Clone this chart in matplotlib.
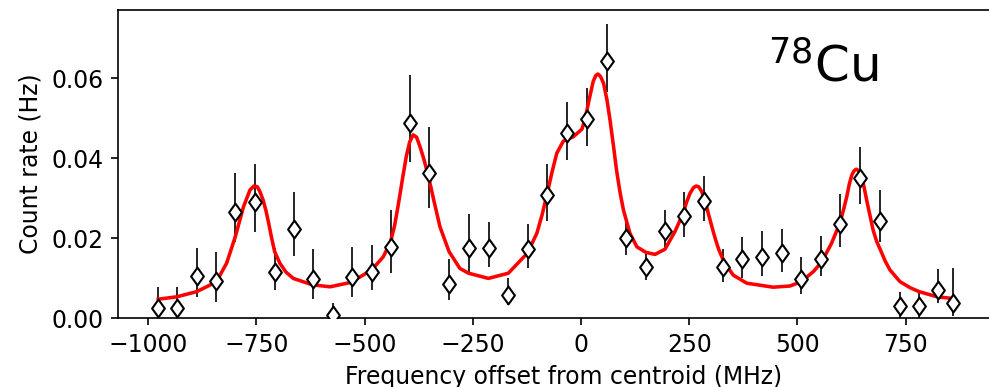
import matplotlib
matplotlib.use('Agg')
import matplotlib.pyplot as plt
from matplotlib.path import Path

plt.rcParams['font.size'] = 11.3

# measured points (MHz, Hz) with asymmetric error bars
freq = [-977, -933, -888, -843, -799, -753, -708, -664, -619, -574, -529,
        -483, -440, -396, -351, -305, -260, -213, -168, -123, -78, -33,
        13, 59, 104, 149, 193, 239, 284, 327, 373, 419, 464, 508, 554,
        598, 645, 692, 736, 781, 824, 860]
rate = [0.0024, 0.0024, 0.0105, 0.0093, 0.0266, 0.0289, 0.0116, 0.0223, 0.0098, 0.0008, 0.0102,
        0.0116, 0.0178, 0.0488, 0.0363, 0.0084, 0.0175, 0.0175, 0.0058, 0.0172, 0.0307, 0.0463,
        0.0498, 0.0643, 0.0200, 0.0128, 0.0218, 0.0255, 0.0293, 0.0127, 0.0147, 0.0153, 0.0162,
        0.0097, 0.0148, 0.0234, 0.0349, 0.0243, 0.0031, 0.0031, 0.0070, 0.0038]
err_up = [0.0054, 0.0053, 0.0069, 0.0071, 0.0096, 0.0097, 0.0058, 0.0092, 0.0075, 0.0030, 0.0076,
          0.0067, 0.0093, 0.0119, 0.0115, 0.0063, 0.0085, 0.0066, 0.0042, 0.0062, 0.0079, 0.0078,
          0.0078, 0.0092, 0.0054, 0.0034, 0.0052, 0.0061, 0.0061, 0.0046, 0.0056, 0.0064, 0.0061,
          0.0056, 0.0056, 0.0075, 0.0079, 0.0077, 0.0035, 0.0031, 0.0053, 0.0087]
err_lo = [0.0024, 0.0024, 0.0052, 0.0053, 0.0075, 0.0075, 0.0047, 0.0069, 0.0050, 0.0008, 0.0050,
          0.0047, 0.0066, 0.0098, 0.0089, 0.0040, 0.0063, 0.0048, 0.0026, 0.0046, 0.0065, 0.0067,
          0.0067, 0.0078, 0.0042, 0.0033, 0.0048, 0.0052, 0.0050, 0.0037, 0.0047, 0.0048, 0.0046,
          0.0037, 0.0043, 0.0057, 0.0063, 0.0054, 0.0031, 0.0031, 0.0033, 0.0032]

# fitted curve
fit_x = [-977, -934, -888, -843, -819, -799, -780, -765, -756, -748, -742, -735, -728, -722,
         -715, -708, -696, -682, -665, -621, -580, -532, -484, -457, -440, -431, -422, -413,
         -404, -396, -388, -380, -372, -364, -356, -348, -341, -326, -305, -280, -260, -214,
         -168, -124, -102, -90, -78, -67, -56, -41, -18, 2, 10, 17, 28, 34, 39, 45, 52, 60, 67,
         75, 82, 90, 98, 113, 129, 150, 171, 194, 217, 236, 244, 252, 260, 266, 272, 279, 287,
         294, 302, 310, 318, 327, 340, 352, 383, 444, 483, 509, 537, 556, 579, 598, 606, 614,
         620, 626, 631, 636, 642, 648, 654, 660, 668, 675, 683, 692, 703, 714, 737, 760, 781,
         823, 857]
fit_y = [0.0047, 0.0053, 0.0066, 0.0090, 0.0137, 0.0203, 0.0278, 0.0320, 0.0330, 0.0328, 0.0316,
         0.0296, 0.0268, 0.0238, 0.0200, 0.0166, 0.0137, 0.0115, 0.0099, 0.0083, 0.0078, 0.0089,
         0.0120, 0.0153, 0.0191, 0.0230, 0.0285, 0.0345, 0.0403, 0.0440, 0.0458, 0.0452, 0.0428,
         0.0400, 0.0368, 0.0332, 0.0298, 0.0228, 0.0166, 0.0124, 0.0112, 0.0099, 0.0112, 0.0162,
         0.0212, 0.0258, 0.0312, 0.0365, 0.0412, 0.0442, 0.0453, 0.0472, 0.0500, 0.0537, 0.0591,
         0.0606, 0.0610, 0.0604, 0.0587, 0.0545, 0.0495, 0.0430, 0.0370, 0.0315, 0.0270, 0.0212,
         0.0178, 0.0164, 0.0159, 0.0172, 0.0216, 0.0262, 0.0290, 0.0312, 0.0326, 0.0330, 0.0328,
         0.0316, 0.0292, 0.0262, 0.0230, 0.0199, 0.0172, 0.0149, 0.0125, 0.0107, 0.0087, 0.0077,
         0.0080, 0.0091, 0.0116, 0.0140, 0.0187, 0.0237, 0.0268, 0.0303, 0.0335, 0.0358, 0.0368,
         0.0372, 0.0368, 0.0353, 0.0328, 0.0295, 0.0255, 0.0220, 0.0192, 0.0170, 0.0142, 0.0120,
         0.0091, 0.0076, 0.0066, 0.0053, 0.0049]

# slightly wider diamond than the built-in 'd'
diamond = Path([(0, 1), (0.72, 0), (0, -1), (-0.72, 0), (0, 1)],
               [Path.MOVETO, Path.LINETO, Path.LINETO, Path.LINETO, Path.CLOSEPOLY])

fig = plt.figure(figsize=(989 / 150, 387 / 150), dpi=150)
# right spine falls just outside the image, as in the original crop
ax = fig.add_axes([118 / 989, 69 / 387, 891 / 989, 308 / 387])

ax.errorbar(freq, rate, yerr=[err_lo, err_up], fmt='none', ecolor='black', elinewidth=0.8, zorder=2)
ax.plot(fit_x, fit_y, color='red', lw=1.7, zorder=3)
ax.plot(freq, rate, linestyle='none', marker=diamond, mfc='white', mec='black',
        ms=8.5, mew=1.0, zorder=4)

ax.text(0.73, 0.767, r'$^{78}$Cu', transform=ax.transAxes, fontsize=24,
        ha='left', va='baseline')

ax.set_xlim(-1070, 989)
ax.set_ylim(0, 0.077)
ax.set_xticks([-1000, -750, -500, -250, 0, 250, 500, 750])
ax.set_yticks([0.0, 0.02, 0.04, 0.06])
ax.set_xlabel('Frequency offset from centroid (MHz)')
ax.set_ylabel('Count rate (Hz)')

fig.savefig('out.png', dpi=150)
